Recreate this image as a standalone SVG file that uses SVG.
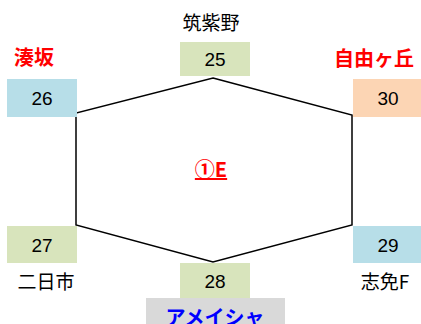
<svg xmlns="http://www.w3.org/2000/svg" width="421" height="324" viewBox="0 0 421 324">
<style>
.t{font-family:"Liberation Sans","Noto Sans CJK JP",sans-serif;text-anchor:middle}
.n{font-size:19px;fill:#000}
.lbl{font-family:"Noto Sans CJK JP",sans-serif;font-size:19px;fill:#000;text-anchor:middle}
.red{font-family:"Noto Sans CJK JP",sans-serif;font-size:20px;font-weight:bold;fill:#FF0000;text-anchor:middle}
.blue{fill:#B7DEE8}.green{fill:#D8E4BC}.orange{fill:#FCD5B4}.gray{fill:#D9D9D9}
.edge{fill:none;stroke:#000;stroke-width:1.5;stroke-linejoin:miter}
</style>
<rect width="421" height="324" fill="#fff"/>
<g id="connectors">
<polygon class="edge" points="213,78 352,115 352,225 213,262 76,225 76,113"/>
</g>
<g id="n25">
<rect class="green" x="180" y="42" width="70" height="34"/>
<text class="t n" x="215" y="66">25</text>
<text class="lbl" x="211" y="30">筑紫野</text>
</g>
<g id="n26">
<rect class="blue" x="7" y="79" width="70" height="38"/>
<text class="t n" x="42" y="105">26</text>
<text class="red" x="34" y="65">湊坂</text>
</g>
<g id="n30">
<rect class="orange" x="353" y="79" width="70" height="38"/>
<text class="t n" x="388" y="105">30</text>
<text class="red" x="374" y="65.5">自由ヶ丘</text>
</g>
<g id="n27">
<rect class="green" x="7" y="226" width="70" height="37"/>
<text class="t n" x="42" y="251.5">27</text>
<text class="lbl" x="46" y="289">二日市</text>
</g>
<g id="n28">
<rect class="green" x="180" y="263" width="70" height="35"/>
<text class="t n" x="215" y="287.5">28</text>
</g>
<g id="n28label">
<rect class="gray" x="146" y="298" width="139" height="26"/>
<text class="red" x="215" y="325" style="fill:#0000FF">アメイシャ</text>
</g>
<g id="n29">
<rect class="blue" x="353" y="226" width="70" height="37"/>
<text class="t n" x="388" y="251.5">29</text>
<text class="lbl" x="385" y="289">志免F</text>
</g>
<g id="center">
<text class="red" x="211" y="177" style="font-size:20px;text-decoration:underline">①E</text>
</g>
</svg>
